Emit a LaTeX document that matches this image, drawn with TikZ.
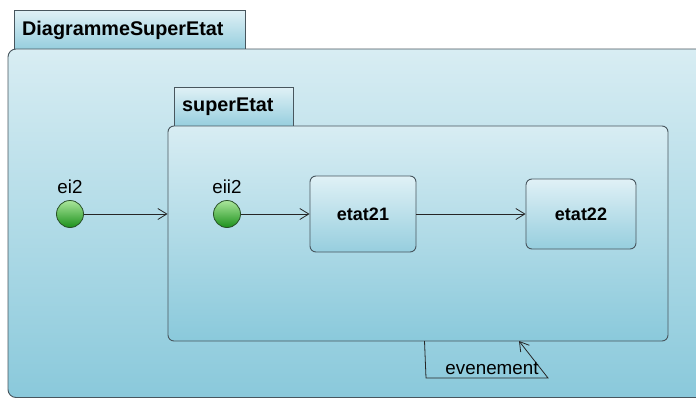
\documentclass[tikz,border=0pt]{standalone}
\usepackage{fontspec}
\setmainfont{Liberation Sans}
\usetikzlibrary{arrows.meta}

\definecolor{edgecol}{RGB}{72,86,94}
\definecolor{frametop}{RGB}{216,237,243}
\definecolor{framebot}{RGB}{138,201,219}
\definecolor{boxtop}{RGB}{224,241,246}
\definecolor{boxbot}{RGB}{150,206,222}
\definecolor{balltop}{RGB}{170,230,155}
\definecolor{ballbot}{RGB}{28,145,28}
\definecolor{ballrim}{RGB}{40,80,40}

\tikzset{
  framebox/.style={draw=edgecol, line width=0.9pt, top color=frametop, bottom color=framebot},
  tabbox/.style={draw=edgecol, line width=0.9pt, top color=boxtop, bottom color=boxbot},
  statebox/.style={draw=edgecol, line width=0.9pt, rounded corners=6pt,
    top color=boxtop, bottom color=boxbot, inner sep=0pt,
    font=\bfseries\fontsize{18}{20}\selectfont},
  initial/.style={circle, draw=ballrim, line width=0.8pt, minimum size=27pt,
    inner sep=0pt, top color=balltop, bottom color=ballbot},
  titletext/.style={anchor=base west, inner sep=0pt,
    font=\bfseries\fontsize{19.8}{22}\selectfont},
  labeltext/.style={font=\fontsize{18.8}{21}\selectfont},
  trans/.style={draw=black!85, line width=0.8pt,
    -{Straight Barb[length=9pt,width=11pt,line width=0.8pt]}}
}

\begin{document}
\begin{tikzpicture}[x=1pt,y=-1pt]
\useasboundingbox (0,0) rectangle (696,399);
\clip (0,0) rectangle (696,399);
\fill[white] (0,0) rectangle (696,399);

% outer diagram frame and its tab
\draw[tabbox] (14,49) rectangle (245,10);
\draw[framebox, rounded corners=8pt] (8,49) rectangle (730,397.5);
\node[titletext] (outertitle) at (22,35) {DiagrammeSuperEtat};

% composite state superEtat
\draw[tabbox] (174,126) rectangle (293,87);
\node[framebox, rounded corners=6pt, minimum width=500pt, minimum height=215pt,
      inner sep=0pt] (super) at (418,233.5) {};
\node[titletext] (supertitle) at (182,111) {superEtat};

% initial pseudo-states
\node[initial] (ei2) at (70,214) {};
\node[labeltext] (ei2lbl) at (70,187) {ei2};
\node[initial] (eii2) at (227,214) {};
\node[labeltext] (eii2lbl) at (227,187) {eii2};

% simple states
\node[statebox, minimum width=106pt, minimum height=76pt] (etat21) at (363,214) {etat21};
\node[statebox, minimum width=110pt, minimum height=70pt] (etat22) at (581,214) {etat22};

% transitions
\draw[trans] (ei2) -- (ei2 -| super.west);
\draw[trans] (eii2) -- (etat21);
\draw[trans] (etat21) -- (etat22);

% self transition on superEtat
\coordinate (loopstart) at (424.5,341);
\coordinate (loopend) at (519,341);
\coordinate (loopa) at (426,378);
\coordinate (loopb) at (548,378);
\draw[trans] (loopstart) -- (loopa) -- (loopb) -- (loopend);
\node[labeltext, anchor=base] (evlbl) at (492,374) {evenement};
\end{tikzpicture}
\end{document}
